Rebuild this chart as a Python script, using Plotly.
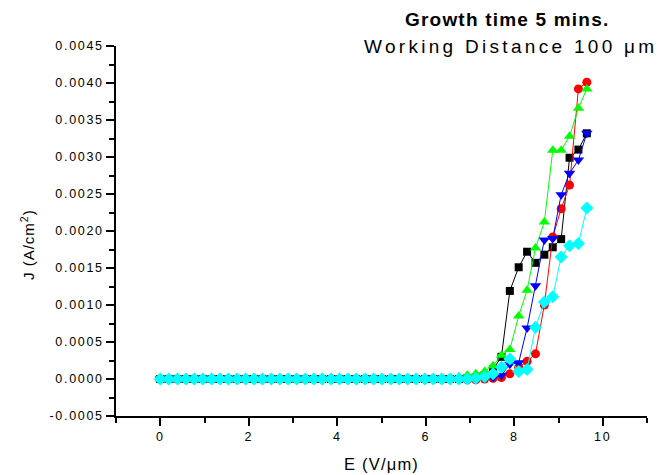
import plotly.graph_objects as go

E = [0.00, 0.19, 0.39, 0.58, 0.77, 0.96, 1.16, 1.35, 1.54, 1.74,
     1.93, 2.12, 2.31, 2.51, 2.70, 2.89, 3.08, 3.28, 3.47, 3.66,
     3.86, 4.05, 4.24, 4.43, 4.63, 4.82, 5.01, 5.21, 5.40, 5.59,
     5.78, 5.98, 6.17, 6.36, 6.55, 6.75, 6.94, 7.13, 7.33, 7.52,
     7.71, 7.90, 8.10, 8.29, 8.48, 8.68, 8.87, 9.06, 9.25, 9.45, 9.64]

zeros35 = [0.0] * 35

J_black = zeros35 + [0.0, 0.00001, 0.00002, 0.00005, 0.00013, 0.00030, 0.00119, 0.00151,
                     0.00172, 0.00157, 0.00168, 0.00178, 0.00189, 0.00299, 0.00310, 0.00332]
J_red = zeros35 + [0.0, -0.00001, -0.00001, 0.00000, 0.00001, 0.00002, 0.00007, 0.00016,
                   0.00024, 0.00034, 0.00100, 0.00192, 0.00230, 0.00262, 0.00392, 0.00401]
J_green = zeros35 + [0.00003, 0.00005, 0.00007, 0.00010, 0.00018, 0.00032, 0.00040, 0.00085,
                     0.00120, 0.00177, 0.00212, 0.00309, 0.00309, 0.00328, 0.00366, 0.00392]
J_blue = zeros35 + [0.0, 0.0, 0.0, 0.00001, 0.00002, 0.00005, 0.00020, 0.00022,
                    0.00069, 0.00126, 0.00188, 0.00190, 0.00249, 0.00278, 0.00296, 0.00332]
J_cyan = zeros35 + [0.0, 0.0, 0.00001, 0.00003, 0.00007, 0.00016, 0.00027, 0.00010,
                    0.00013, 0.00070, 0.00104, 0.00111, 0.00165, 0.00180, 0.00183, 0.00231]

series = [
    (J_black, "black", "square", 8),
    (J_red, "red", "circle", 9),
    (J_green, "#00ff00", "triangle-up", 10),
    (J_blue, "blue", "triangle-down", 10),
    (J_cyan, "cyan", "diamond", 10),
]

y_ticks = [-0.0005, 0.0, 0.0005, 0.0010, 0.0015, 0.0020, 0.0025, 0.0030, 0.0035, 0.0040, 0.0045]
y_tick_text = ["-0.0005", "0.0000", "0.0005", "0.0010", "0.0015", "0.0020",
               "0.0025", "0.0030", "0.0035", "0.0040", "0.0045"]
x_ticks = [0, 2, 4, 6, 8, 10]
x_tick_text = ["0", "2", "4", "6", "8", "10"]

SP = '<span style="letter-spacing:1.7px">{}</span>'

fig = go.Figure()
for J, col, sym, size in series:
    fig.add_trace(go.Scatter(
        x=E, y=J, mode="lines+markers",
        line=dict(color=col, width=1),
        marker=dict(color=col, symbol=sym, size=size, line=dict(width=0)),
        showlegend=False,
    ))

fig.update_layout(
    width=661, height=475,
    margin=dict(l=116, r=14, t=46, b=59),
    paper_bgcolor="white", plot_bgcolor="white",
    font=dict(family="Liberation Sans, Arial, sans-serif", color="black", size=12),
    xaxis=dict(
        range=[-1, 11], showgrid=False, zeroline=False,
        showline=True, linecolor="black", linewidth=1.5,
        ticks="outside", ticklen=8, tickwidth=1.5, tickcolor="black",
        tickvals=x_ticks, ticktext=[SP.format(t) for t in x_tick_text],
        minor=dict(dtick=1, tick0=-1, ticks="outside", ticklen=5, tickwidth=1.5, tickcolor="black"),
        tickfont=dict(size=12.5),
    ),
    yaxis=dict(
        range=[-0.0005, 0.0045], showgrid=False, zeroline=False,
        showline=True, linecolor="black", linewidth=1.5,
        ticks="outside", ticklen=8, tickwidth=1.5, tickcolor="black",
        tickvals=y_ticks, ticktext=[SP.format(t) for t in y_tick_text],
        minor=dict(dtick=0.00025, tick0=0, ticks="outside", ticklen=5, tickwidth=1.5, tickcolor="black"),
        tickfont=dict(size=12.5),
    ),
    annotations=[
        dict(text='<span style="letter-spacing:1.2px">E (V/μm)</span>', xref="paper", yref="paper",
             x=(381 - 116) / 531, y=(416 - 464) / 370, showarrow=False,
             xanchor="center", yanchor="middle", font=dict(size=16.5)),
        dict(text='<span style="letter-spacing:1px">J (A/cm<sup>2</sup>)</span>', xref="paper", yref="paper",
             x=(27 - 116) / 531, y=(416 - 245) / 370, showarrow=False, textangle=-90,
             xanchor="center", yanchor="middle", font=dict(size=15)),
        dict(text='<span style="letter-spacing:1.2px"><b>Growth time 5 mins.</b></span>', xref="paper", yref="paper",
             x=(403 - 116) / 531, y=(416 - 19) / 370, showarrow=False,
             xanchor="left", yanchor="middle", font=dict(size=19)),
        dict(text='<span style="letter-spacing:3.3px">Working Distance 100 μm</span>', xref="paper", yref="paper",
             x=(362 - 116) / 531, y=(416 - 47) / 370, showarrow=False,
             xanchor="left", yanchor="middle", font=dict(size=19)),
    ],
)

fig.write_html("out.html", config={"displayModeBar": False},
               post_script="document.body.style.margin='0';")
